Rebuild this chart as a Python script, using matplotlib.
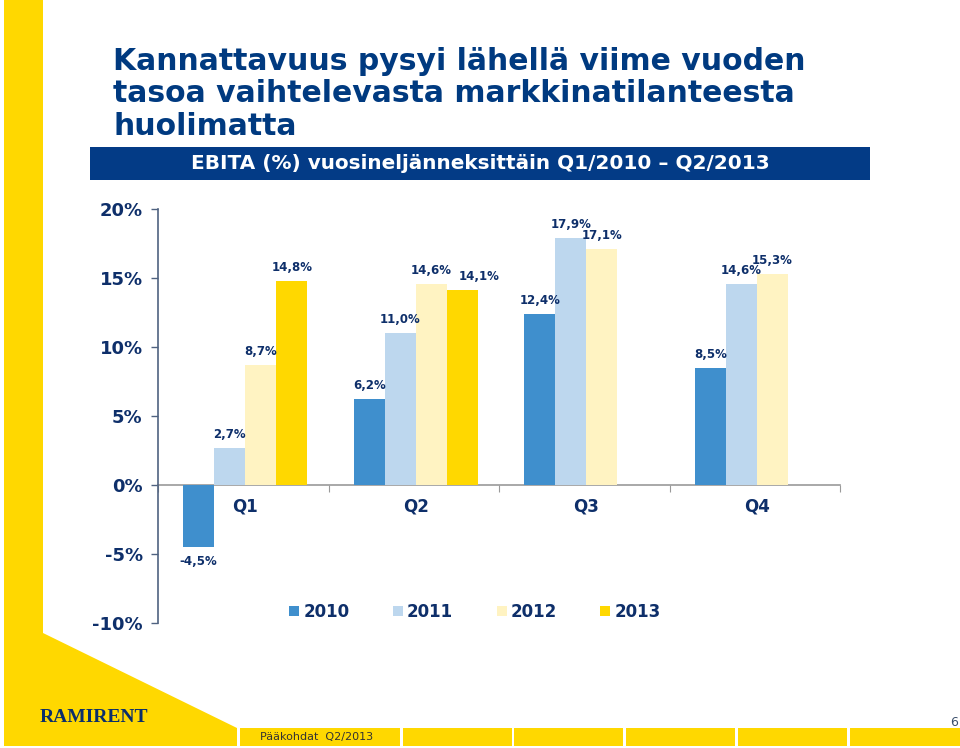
import matplotlib
matplotlib.use("Agg")
import matplotlib.pyplot as plt
from matplotlib.patches import Polygon, Rectangle, Patch
import numpy as np

# ---------------- data ----------------
quarters = ["Q1", "Q2", "Q3", "Q4"]
years = ["2010", "2011", "2012", "2013"]
ebita_2010 = [-4.5, 6.2, 12.4, 8.5]
ebita_2011 = [2.7, 11.0, 17.9, 14.6]
ebita_2012 = [8.7, 14.6, 17.1, 15.3]
ebita_2013 = [14.8, 14.1, None, None]
series = [ebita_2010, ebita_2011, ebita_2012, ebita_2013]
yticks = [-10, -5, 0, 5, 10, 15, 20]

title_lines = ["Kannattavuus pysyi lähellä viime vuoden",
               "tasoa vaihtelevasta markkinatilanteesta",
               "huolimatta"]
banner_text = "EBITA (%) vuosineljänneksittäin Q1/2010 – Q2/2013"

# ---------------- style ----------------
W, H = 960, 748
colors = ["#3F8FCD", "#BDD7EE", "#FFF3C2", "#FFD800"]
yellow = "#FFD800"
navy = "#003A80"
label_col = "#0E2F6A"
# horizontal nudges (points) for labels that would collide: (series, quarter)
label_nudge = {(3, 1): 12}
plt.rcParams['font.family'] = ['DejaVu Sans']

fig = plt.figure(figsize=(W / 100, H / 100), dpi=100)


def fx(x):
    return x / W


def fy(y):
    return 1 - y / H


# background decorations
poly = Polygon([(fx(4), fy(0)), (fx(43), fy(0)), (fx(43), fy(633)),
                (fx(237), fy(728)), (fx(237), fy(746)), (fx(4), fy(746))],
               closed=True, transform=fig.transFigure, facecolor=yellow,
               edgecolor='none', zorder=0)
fig.patches.append(poly)
for x0, x1 in [(240, 400), (403, 512), (514, 623), (626, 735), (738, 847), (850, 960)]:
    fig.patches.append(Rectangle((fx(x0), fy(746)), (x1 - x0) / W, 18 / H,
                                 transform=fig.transFigure, facecolor=yellow,
                                 edgecolor='none', zorder=0))

# title
for i, line in enumerate(title_lines):
    fig.text(fx(113), fy(70 + i * 32.5), line, fontsize=21.5, fontweight='bold',
             color=navy, ha='left', va='baseline')

# banner
fig.patches.append(Rectangle((fx(90), fy(180)), (870 - 90) / W, 33 / H,
                             transform=fig.transFigure, facecolor="#033B86",
                             edgecolor='none', zorder=0))
fig.text(fx(480), fy(163.5), banner_text, fontsize=14.4, fontweight='bold',
         color='white', ha='center', va='center')

# footer
fig.text(fx(40), fy(718), "RAMIRENT", family='Liberation Serif', fontsize=14,
         fontweight='heavy', color="#0B2E6B", ha='left', va='center')
fig.text(fx(260), fy(737), "Pääkohdat  Q2/2013", fontsize=8, color="#333333",
         ha='left', va='center')
fig.text(fx(958), fy(722), "6", fontsize=9, color="#3B4F6B", ha='right', va='center')

# ---------------- chart ----------------
ax = fig.add_axes([fx(158), fy(623), (840 - 158) / W, (623 - 209) / H])
ax.set_facecolor('none')
x = np.arange(len(quarters))
bw = 0.182
for i, (vals, col, yr) in enumerate(zip(series, colors, years)):
    idx = [q for q, v in enumerate(vals) if v is not None]
    xs = [x[q] + (i - 1.5) * bw + 0.012 for q in idx]
    vs = [vals[q] for q in idx]
    ax.bar(xs, vs, width=bw, color=col, edgecolor='none', zorder=3, label=yr)
    for q, bx, v in zip(idx, xs, vs):
        txt = f"{v:.1f}%".replace('.', ',')
        dx = label_nudge.get((i, q), 0)
        if v >= 0:
            ax.annotate(txt, (bx, v), xytext=(dx, 5), textcoords='offset points',
                        ha='center', va='bottom', fontsize=8.5, fontweight='bold',
                        color=label_col, zorder=4)
        else:
            ax.annotate(txt, (bx, v), xytext=(dx, -6), textcoords='offset points',
                        ha='center', va='top', fontsize=8.5, fontweight='bold',
                        color=label_col, zorder=4)

ax.set_xlim(-0.5, 3.5)
ax.set_ylim(-10, 20)
ax.set_yticks(yticks)
ax.set_yticklabels([f"{t}%" for t in yticks], fontsize=13, fontweight='bold',
                   color=label_col)
ax.tick_params(axis='y', direction='out', length=5, width=1, color="#4F6280", pad=6)

for s in ['top', 'right']:
    ax.spines[s].set_visible(False)
ax.spines['left'].set_color("#4F6280")
ax.spines['left'].set_linewidth(1.2)
ax.spines['bottom'].set_position(('data', 0))
ax.spines['bottom'].set_color("#9A9A9A")
ax.spines['bottom'].set_linewidth(1.2)
ax.spines['bottom'].set_zorder(2)

ax.set_xticks(np.arange(-0.5, 4, 1.0))
ax.set_xticklabels([])
ax.tick_params(axis='x', which='major', direction='out', length=5, color="#9A9A9A")
ax.set_xticks(x + 0.012, minor=True)
ax.set_xticklabels(quarters, minor=True, fontsize=12, fontweight='bold', color=label_col)
ax.tick_params(axis='x', which='minor', length=0, pad=9)

handles = [Patch(facecolor=c, edgecolor='none') for c in colors]
leg = fig.legend(handles, years, loc='center', bbox_to_anchor=(fx(475), fy(612)),
                 ncol=4, frameon=False, prop={'weight': 'bold', 'size': 12},
                 labelcolor=label_col, handlelength=0.6, handleheight=0.6,
                 handletextpad=0.25, columnspacing=2.6)

fig.savefig("out.png", dpi=100)
